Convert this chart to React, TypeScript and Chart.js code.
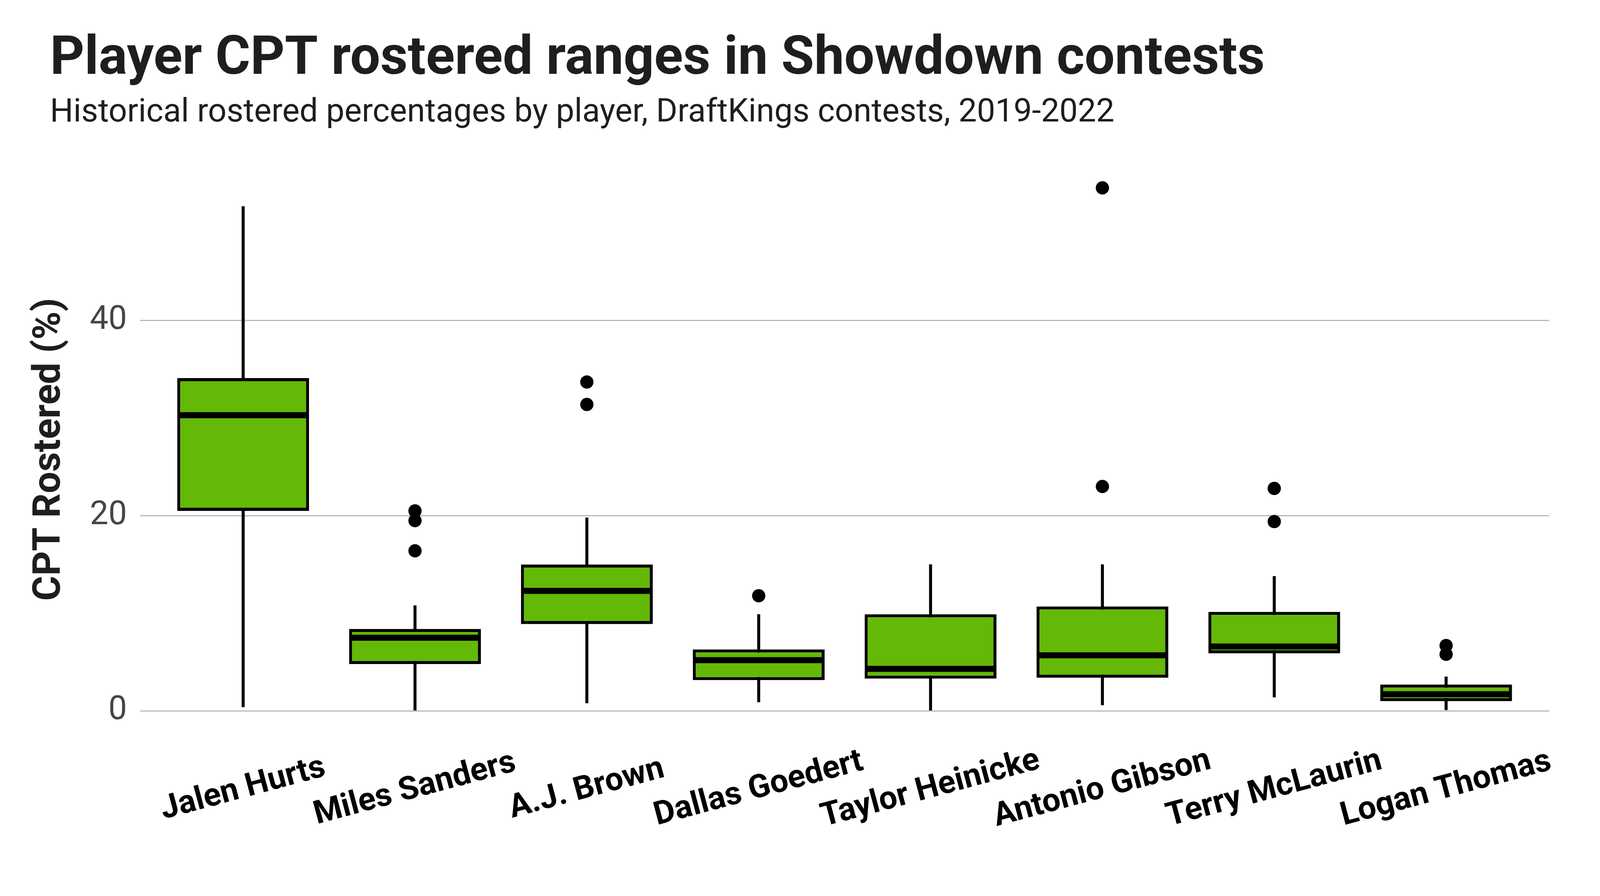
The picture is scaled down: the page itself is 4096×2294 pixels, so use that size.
import React, { useEffect, useRef } from "react";
import { Chart, registerables } from "chart.js";

Chart.register(...registerables);

// ---------------- data ----------------
const players = [
  "Jalen Hurts",
  "Miles Sanders",
  "A.J. Brown",
  "Dallas Goedert",
  "Taylor Heinicke",
  "Antonio Gibson",
  "Terry McLaurin",
  "Logan Thomas",
];
const whiskerLow = [0.4, 0.0, 0.8, 0.9, 0.0, 0.6, 1.4, 0.1];
const q1 = [20.5, 4.8, 8.9, 3.15, 3.3, 3.4, 5.9, 1.0];
const medians = [30.3, 7.5, 12.3, 5.2, 4.3, 5.7, 6.6, 1.7];
const q3 = [34.1, 8.4, 15.0, 6.3, 9.9, 10.7, 10.15, 2.7];
const whiskerHigh = [51.7, 10.8, 19.8, 9.9, 15.0, 15.0, 13.8, 3.5];
const outliers = [
  [],
  [20.5, 19.5, 16.4],
  [33.7, 31.4],
  [11.8],
  [],
  [53.6, 23.0],
  [22.8, 19.4],
  [6.7, 5.8],
];
const yTicks = [0, 20, 40];

const titleText = "Player CPT rostered ranges in Showdown contests";
const subtitleText =
  "Historical rostered percentages by player, DraftKings contests, 2019-2022";
const yAxisTitle = "CPT Rostered (%)";

// ---------------- styling ----------------
const GREEN = "#64b906";
const DARK = "#1e1e1e";
const BOX_WIDTH = 0.75; // in category units
const BOX_LINE = 7.8;
const MEDIAN_LINE = 15.5;
const WHISKER_LINE = 7;
const X_ANGLE = 15;

export default function App() {
  const canvasRef = useRef<HTMLCanvasElement | null>(null);

  useEffect(() => {
    const canvas = canvasRef.current;
    if (!canvas) return;

    const allValues = [
      ...whiskerLow,
      ...whiskerHigh,
      ...outliers.flat(),
    ];
    const vMin = Math.min(...allValues);
    const vMax = Math.max(...allValues);
    const pad = (vMax - vMin) * 0.05;
    const positions = players.map((_, i) => i + 1);

    const textPlugin = {
      id: "textLayer",
      afterDraw(chart: any) {
        const ctx = chart.ctx as CanvasRenderingContext2D;
        const xs = chart.scales.x;
        ctx.save();
        // title
        ctx.fillStyle = DARK;
        ctx.textAlign = "left";
        ctx.textBaseline = "alphabetic";
        ctx.font = "bold 137px Roboto";
        ctx.fillText(titleText, 128, 189);
        ctx.font = "83.7px Roboto";
        ctx.fillText(subtitleText, 128, 311);
        // x labels
        ctx.fillStyle = "#000000";
        ctx.font = "bold 83px Roboto";
        ctx.textAlign = "center";
        ctx.textBaseline = "middle";
        players.forEach((name, i) => {
          const x = xs.getPixelForValue(positions[i]);
          ctx.save();
          ctx.translate(x, chart.chartArea.bottom + 134);
          ctx.rotate((-X_ANGLE * Math.PI) / 180);
          ctx.fillText(name, 0, 0);
          ctx.restore();
        });
        ctx.restore();
      },
    };

    const chart = new Chart(canvas, {
      type: "bar",
      data: {
        datasets: [
          {
            type: "scatter",
            label: "outliers",
            data: outliers.flatMap((vals, i) =>
              vals.map((v) => ({ x: positions[i], y: v }))
            ),
            backgroundColor: "#000000",
            borderColor: "#000000",
            borderWidth: 0,
            pointRadius: 17,
            order: 0,
          } as any,
          {
            type: "scatter",
            label: "median",
            data: medians.map((m, i) => ({ x: positions[i], y: m })),
            pointStyle: "line",
            borderColor: "#000000",
            backgroundColor: "#000000",
            borderWidth: MEDIAN_LINE,
            pointRadius: (ctx: any) => {
              const s = ctx.chart.scales.x;
              return Math.abs(
                s.getPixelForValue(1 + BOX_WIDTH / 2) - s.getPixelForValue(1)
              );
            },
            order: 1,
          } as any,
          {
            type: "bar",
            label: "box",
            data: q1.map((v, i) => ({ x: positions[i], y: [v, q3[i]] })),
            backgroundColor: GREEN,
            borderColor: "#000000",
            borderWidth: BOX_LINE,
            borderSkipped: false,
            grouped: false,
            barPercentage: 0.767,
            categoryPercentage: 1,
            order: 2,
          } as any,
          {
            type: "bar",
            label: "whisker",
            data: whiskerLow.map((v, i) => ({
              x: positions[i],
              y: [v, whiskerHigh[i]],
            })),
            backgroundColor: "#000000",
            borderWidth: 0,
            grouped: false,
            maxBarThickness: WHISKER_LINE,
            barPercentage: 1,
            categoryPercentage: 1,
            order: 3,
          } as any,
        ],
      },
      options: {
        animation: false,
        responsive: true,
        maintainAspectRatio: false,
        events: [],
        layout: { padding: { left: 0, right: 130, top: 414, bottom: 0 } },
        plugins: {
          legend: { display: false },
          tooltip: { enabled: false },
          title: { display: false },
        },
        scales: {
          x: {
            type: "linear",
            offset: false,
            min: 0.4,
            max: players.length + 0.6,
            grid: { display: false, offset: false },
            border: { display: false },
            ticks: { display: false },
            afterBuildTicks: (scale: any) => {
              scale.ticks = positions.map((p) => ({ value: p }));
            },
            afterFit: (scale: any) => {
              scale.height = 407;
            },
          },
          y: {
            type: "linear",
            stacked: false,
            min: vMin - pad,
            max: vMax + pad,
            afterBuildTicks: (scale: any) => {
              scale.ticks = yTicks.map((v) => ({ value: v }));
            },
            afterFit: (scale: any) => {
              scale.width = 358.5;
            },
            grid: {
              color: "#b3b3b3",
              lineWidth: 2.7,
              drawTicks: false,
            },
            border: { display: false },
            ticks: {
              color: "#454545",
              font: { family: "Roboto", size: 84.5 },
              padding: 33.5,
            },
            title: {
              display: true,
              text: yAxisTitle,
              color: DARK,
              font: { family: "Roboto", size: 98, weight: "bold" },
              padding: { top: 70, bottom: 0 },
            },
          },
        },
      },
      plugins: [textPlugin],
    } as any);

    return () => {
      chart.destroy();
    };
  }, []);

  return (
    <div
      style={{
        position: "fixed",
        left: 0,
        top: 0,
        width: "100vw",
        height: "100vh",
        background: "#ffffff",
      }}
    >
      <canvas ref={canvasRef} />
    </div>
  );
}
